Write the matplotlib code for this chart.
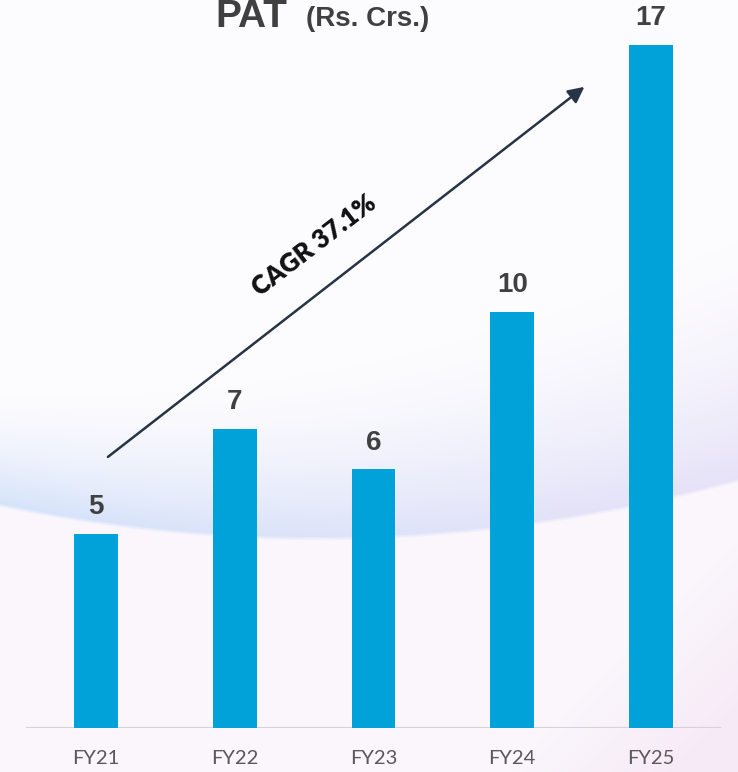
import numpy as np
import matplotlib
matplotlib.use("Agg")
from matplotlib import pyplot as plt

# data
years = ["FY21", "FY22", "FY23", "FY24", "FY25"]
pat = [4.8, 7.4, 6.4, 10.3, 16.9]
pat_labels = ["5", "7", "6", "10", "17"]
cagr_text = "CAGR 37.1%"

W, H = 738, 772
fig = plt.figure(figsize=(W / 100, H / 100), dpi=100)

# soft background with a curved lavender / blue band
ax_bg = fig.add_axes([0, 0, 1, 1], zorder=-5)
yy, xx = np.mgrid[0:H, 0:W].astype(float)
edge = np.polyval(np.polyfit([0, 300, 738], [505, 538, 480], 2), xx)
fade = 110 + 130 * xx / W
t = np.clip((yy - (edge - fade)) / fade, 0, 1) ** 1.6
t = t * np.clip((edge - yy) / 4 + 0.5, 0, 1)
top = np.array([252, 251, 254.0])
below = np.array([250, 246, 252.0])
blue = np.array([212, 227, 250.0])
lav = np.array([231, 226, 248.0])
fx = (xx / W)[..., None]
band_col = blue * (1 - fx) + lav * fx
base = np.where((yy > edge)[..., None], below, top)
img = base * (1 - t[..., None]) + band_col * t[..., None]
pink = np.array([246, 232, 246.0])
p = np.clip(((xx - 640) + (yy - 640)) / 160, 0, 1)[..., None] * 0.8
img = img * (1 - p) + pink * p
ax_bg.imshow(img / 255, extent=[0, W, H, 0], aspect="auto")
ax_bg.axis("off")

ax = fig.add_axes([0, 44 / H, 1, 1 - 44 / H])
ax.set_facecolor("none")
x = np.arange(len(years))
ax.bar(x, pat, width=0.317, color="#00a3d9", zorder=3)
ax.set_xlim(-96 / 138.75, (W - 96) / 138.75)
ax.set_ylim(0, 728 / 40.4)
ax.axhline(0, xmin=27 / W, xmax=720 / W, color="#d5d5d8", lw=1.6, zorder=2)

for xi, v, lab in zip(x, pat, pat_labels):
    ax.annotate(lab, (xi, v), xytext=(0, 10), textcoords="offset points",
                ha="center", va="bottom", fontsize=20, fontweight="bold",
                color="#404040", family="Liberation Sans")

ax.set_xticks(x)
ax.set_xticklabels(years, fontsize=14.5, color="#595959", family="Lato")
ax.tick_params(axis="x", length=0, pad=16)
ax.set_yticks([])
for s in ax.spines.values():
    s.set_visible(False)

# CAGR arrow
ax.annotate("", xy=(3.52, 15.87), xytext=(0.086, 6.71),
            arrowprops=dict(arrowstyle="-|>", mutation_scale=24, lw=1.8,
                            color="#263445", shrinkA=0, shrinkB=0))
ax.text(1.57, 11.95, cagr_text, rotation=37.5, rotation_mode="anchor",
        ha="center", va="center", fontsize=18.5, fontweight="heavy",
        color="#111111", family="Lato")

# title (cut at the top like the reference)
fig.text(251 / W, 1 - 27 / H, "PAT", ha="center", va="baseline", fontsize=28,
         fontweight="bold", color="#404040", family="Liberation Sans")
fig.text(306 / W, 1 - 26 / H, "(Rs. Crs.)", ha="left", va="baseline", fontsize=20,
         fontweight="bold", color="#404040", family="Liberation Sans")

plt.savefig("out.png", dpi=100)
